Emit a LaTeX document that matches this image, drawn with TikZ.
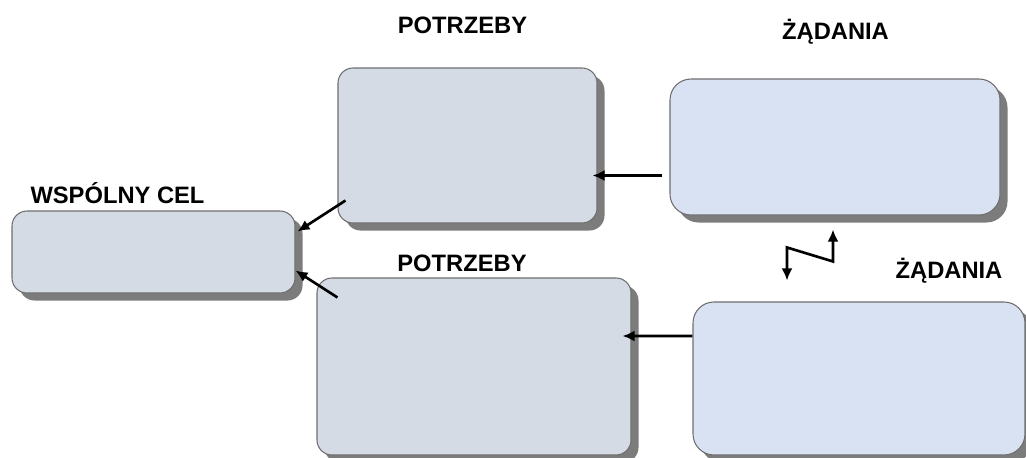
\documentclass[tikz,border=0pt]{standalone}
\usepackage{fontspec}
\setmainfont{Liberation Sans}
\usetikzlibrary{arrows.meta,shadows}
\definecolor{needfill}{HTML}{D5DBE5}
\definecolor{askfill}{HTML}{D9E2F3}
\definecolor{edge}{HTML}{6E6E6E}
\definecolor{shade}{HTML}{7C7C7C}

\begin{document}
\begin{tikzpicture}[
  box/.style={draw=edge, line width=0.6pt, fill=#1, rounded corners=0.3cm,
              minimum width=1cm, inner sep=0pt,
              drop shadow={shadow xshift=0.15cm, shadow yshift=-0.15cm,
                           fill=shade, opacity=1}},
  title/.style={anchor=base, font=\bfseries\fontsize{13.5}{16}\selectfont},
  arr/.style={-{Latex[length=2.4mm,width=2.2mm]}, line width=1.5pt},
  zig/.style={{Latex[length=2.4mm,width=2.2mm]}-{Latex[length=2.4mm,width=2.2mm]},
              line width=1.5pt},
]
\useasboundingbox (0,0) rectangle (20.52,9.14);
% boxes
\node[box=needfill, minimum width=5.66cm, minimum height=1.64cm] (cel) at (3.07, 4.10) {};
\node[box=needfill, minimum width=5.18cm, minimum height=3.10cm] (pot1) at (9.35, 6.23) {};
\node[box=askfill, rounded corners=0.42cm, minimum width=6.60cm, minimum height=2.72cm] (zad1) at (16.70, 6.20) {};
\node[box=needfill, minimum width=6.28cm, minimum height=3.54cm] (pot2) at (9.48, 1.81) {};
\node[box=askfill, rounded corners=0.42cm, minimum width=6.64cm, minimum height=3.06cm] (zad2) at (17.18, 1.57) {};
% titles
\node[title] (tcel) at (2.35, 5.08) {WSPÓLNY CEL};
\node[title] (tpot1) at (9.25, 8.48) {POTRZEBY};
\node[title] (tzad1) at (16.71, 8.36) {ŻĄDANIA};
\node[title] (tpot2) at (9.24, 3.72) {POTRZEBY};
\node[title] (tzad2) at (18.98, 3.58) {ŻĄDANIA};
% connectors
\draw[arr] ([shift={(-0.14,-0.57)}]zad1.west) -- ([shift={(-0.10,-0.60)}]pot1.east);
\draw[arr] ([shift={(0,0.85)}]zad2.west) -- ([shift={(-0.18,0.61)}]pot2.east);
\draw[arr] ([shift={(0.16,0.46)}]pot1.south west) -- ([shift={(0.04,-0.42)}]cel.north east);
\draw[arr] ([shift={(0.42,-0.40)}]pot2.north west) -- ([shift={(0,0.46)}]cel.south east);
\draw[zig] ([shift={(-1.44,0.42)}]zad2.north) -- ++(0,0.66) -- ++(0.92,-0.28)
  -- ([shift={(-0.04,-0.28)}]zad1.south);
\end{tikzpicture}
\end{document}
